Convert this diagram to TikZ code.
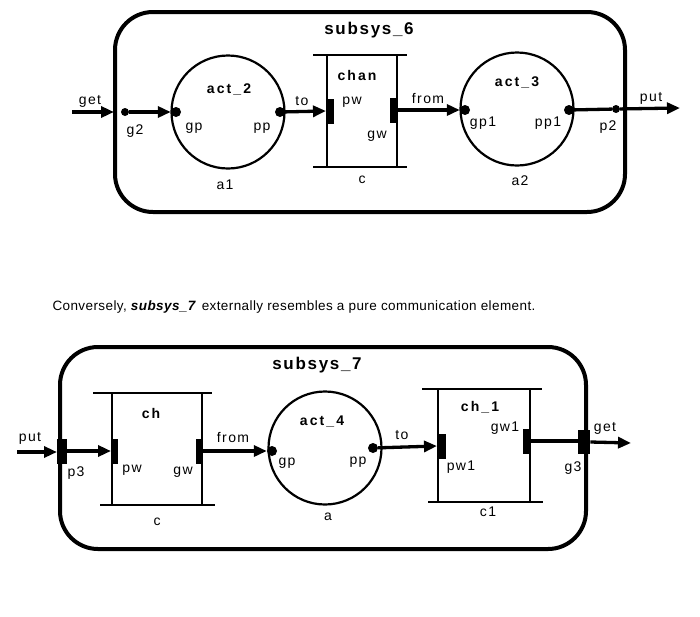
\documentclass[tikz,border=0pt]{standalone}
\usepackage{fontspec}
\setmainfont{Liberation Sans}
\newfontfamily\spacedfont[LetterSpace=10]{Liberation Sans}
\newfontfamily\wideboldfont[LetterSpace=15]{Liberation Sans}
\newfontfamily\convfont[LetterSpace=3]{Liberation Sans}
\usetikzlibrary{arrows.meta}
\begin{document}
\begin{tikzpicture}[x=1pt,y=-1pt,
  frame/.style={line width=4pt, rounded corners=38pt},
  bar/.style={line width=2.2pt},
  proc/.style={circle, draw, line width=2.2pt, minimum size=113pt, inner sep=0pt},
  dot/.style={circle, fill, inner sep=0pt, minimum size=10pt},
  sdot/.style={circle, fill, inner sep=0pt, minimum size=8pt},
  port/.style={rectangle, fill, inner sep=0pt, minimum width=8pt, minimum height=25pt},
  flow/.style={line width=3.3pt, -{Triangle[length=13pt,width=11pt]}},
  wire/.style={line width=3.3pt},
  lbl/.style={font=\spacedfont\fontsize{14}{15}\selectfont, inner sep=0pt},
  blbl/.style={font=\wideboldfont\bfseries\fontsize{14}{15}\selectfont, inner sep=0pt},
  title/.style={font=\spacedfont\bfseries\fontsize{17}{18}\selectfont, inner sep=0pt},
  txt/.style={font=\convfont\fontsize{13.5}{14}\selectfont, inner sep=0pt}
]
\useasboundingbox (0,0) rectangle (700,616);

% ---------------- subsys_6 ----------------
\draw[frame] (115,12) rectangle (625,212);
\node[title] (t6) at (369,30) {subsys\_6};

\coordinate (getin) at (72,112);
\coordinate (edgeL6) at (114,112);
\node[sdot] (g2) at (125,112) {};
\node[proc] (act2) at (228,112) {};
\node[dot] (gp) at (176,112) {};
\node[dot] (pp) at (280,112) {};
% chan
\draw[bar] (313,55) -- (407,55);
\draw[bar] (313,167) -- (407,167);
\draw[bar] (327,55) -- (327,167);
\draw[bar] (397,55) -- (397,167);
\node[port, anchor=west] (pw) at (326,111) {};
\node[port, anchor=east] (gw) at (398,110) {};
\node[proc] (act3) at (517,109) {};
\node[dot] (gp1) at (465,110) {};
\node[dot] (pp1) at (569,110) {};
\node[sdot] (p2) at (616,109) {};
\coordinate (putout) at (680,108);

\draw[flow] (getin) -- (edgeL6);
\draw[flow] (g2) -- (gp.west);
\draw[flow] (pp) -- (pw.west);
\draw[flow] (gw.east) -- (gp1.west);
\draw[wire] (pp1) -- (p2);
\draw[flow] (p2) -- (putout);

\node[lbl] (lget) at (90,101) {get};
\node[lbl] (lg2) at (135,131) {g2};
\node[lbl] (lgp) at (194,128) {gp};
\node[lbl] (lpp) at (262,128) {pp};
\node[blbl] (lact2) at (229,89) {act\_2};
\node[lbl] (la1) at (225,185) {a1};
\node[lbl] (lto) at (302,101) {to};
\node[blbl] (lchan) at (357,75) {chan};
\node[lbl] (lpw) at (352,102) {pw};
\node[lbl] (lgw) at (377,136) {gw};
\node[lbl] (lc) at (362,180) {c};
\node[lbl] (lfrom) at (428,98) {from};
\node[blbl] (lact3) at (517,82) {act\_3};
\node[lbl] (lgp1) at (483,123) {gp1};
\node[lbl] (lpp1) at (548,123) {pp1};
\node[lbl] (lp2) at (608,127) {p2};
\node[lbl] (la2) at (520,181) {a2};
\node[lbl] (lput) at (651,98) {put};

% ---------------- text ----------------
\node[txt] (conv) at (294,307) {Conversely, {\bfseries\itshape subsys\_7}\, externally resembles a pure communication element.};

% ---------------- subsys_7 ----------------
\draw[frame] (60,347) rectangle (586,549);
\node[title] (t7) at (317,365) {subsys\_7};

\coordinate (putin) at (17,452);
\node[port, anchor=west, minimum width=10pt] (p3) at (57,451) {};
% ch
\draw[bar] (93,393) -- (212,393);
\draw[bar] (100,505) -- (215,505);
\draw[bar] (112,393) -- (112,505);
\draw[bar] (202,393) -- (202,505);
\node[port, anchor=west, minimum width=7pt] (pwb) at (111,451) {};
\node[port, anchor=east, minimum width=7pt] (gwb) at (203,451) {};
\node[proc] (act4) at (325,448) {};
\node[dot] (gpb) at (272,451) {};
\node[dot] (ppb) at (373,448) {};
% ch_1
\draw[bar] (422,389) -- (542,389);
\draw[bar] (428,502) -- (543,502);
\draw[bar] (438,389) -- (438,502);
\draw[bar] (530,389) -- (530,502);
\node[port, anchor=west, minimum width=9pt] (pw1) at (437,446) {};
\node[port, anchor=east, minimum width=8pt] (gw1) at (531,441) {};
\node[port, anchor=west, minimum width=12pt, minimum height=24pt] (g3) at (578,442) {};
\coordinate (getout) at (631,443);

\draw[flow] (putin) -- (putin -| p3.west);
\draw[flow] (p3.east) -- (pwb.west);
\draw[flow] (gwb.east) -- (gpb.west);
\draw[flow] (ppb) -- (pw1.west);
\draw[wire] (gw1.east) -- (gw1.east -| g3.west);
\draw[flow] (g3.east) -- (getout);

\node[lbl] (lputb) at (30,438) {put};
\node[lbl] (lp3) at (76,473) {p3};
\node[blbl] (lch) at (151,413) {ch};
\node[lbl] (lpwb) at (132,470) {pw};
\node[lbl] (lgwb) at (183,472) {gw};
\node[lbl] (lcb) at (157,522) {c};
\node[lbl] (lfromb) at (233,437) {from};
\node[blbl] (lact4) at (322,422) {act\_4};
\node[lbl] (lgpb) at (287,463) {gp};
\node[lbl] (lppb) at (358,462) {pp};
\node[lbl] (lab) at (328,517) {a};
\node[lbl] (ltob) at (402,435) {to};
\node[blbl] (lch1) at (480,407) {ch\_1};
\node[lbl] (lgw1) at (505,428) {gw1};
\node[lbl] (lpw1) at (461,467) {pw1};
\node[lbl] (lc1) at (488,512) {c1};
\node[lbl] (lg3) at (573,468) {g3};
\node[lbl] (lgetb) at (605,428) {get};
\end{tikzpicture}
\end{document}
